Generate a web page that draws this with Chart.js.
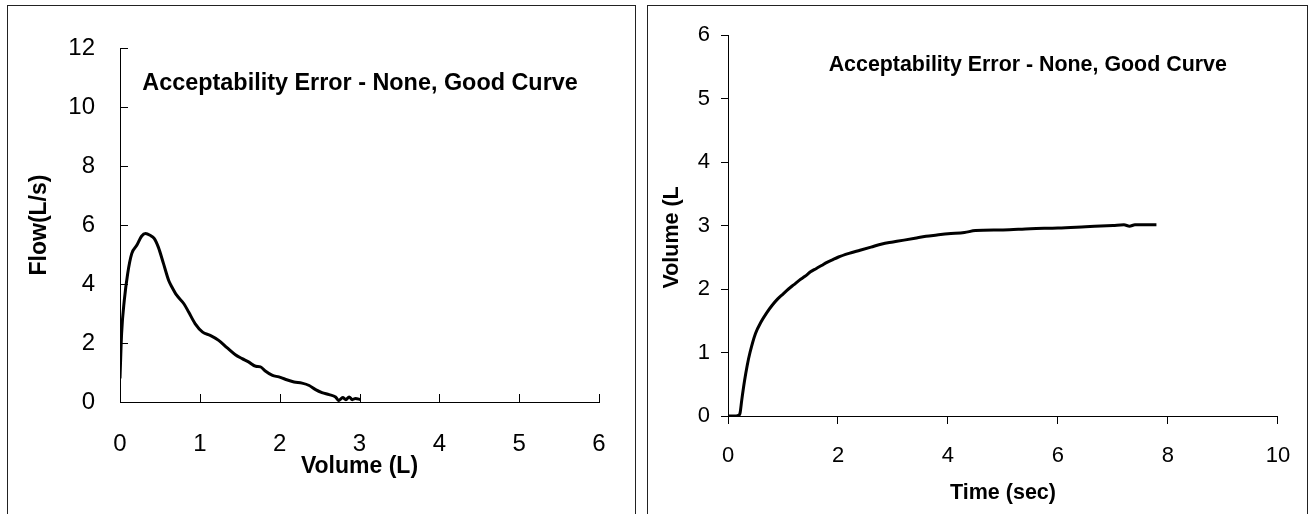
<!DOCTYPE html>
<html>
<head>
<meta charset="utf-8">
<script src="https://cdn.jsdelivr.net/npm/chart.js@4.4.1/dist/chart.umd.min.js"></script>
<style>
html, body { margin: 0; padding: 0; background: #fff; width: 1309px; height: 514px; overflow: hidden; }
.box { position: absolute; top: 5px; height: 530px; border: 1px solid #222; box-sizing: border-box; }
canvas { position: absolute; top: 0; }
</style>
</head>
<body>
<div class="box" style="left:7px;width:629px"></div>
<div class="box" style="left:647px;width:661px"></div>
<canvas id="flowVolume" width="640" height="514" style="left:0"></canvas>
<canvas id="volumeTime" width="669" height="514" style="left:640px"></canvas>
<script>
// flow-volume loop (left)
const volumeL = [0, 0.02, 0.054, 0.096, 0.147, 0.21, 0.27, 0.32, 0.377, 0.43, 0.48, 0.545, 0.61, 0.65, 0.71, 0.80,
  0.86, 0.94, 1.035, 1.13, 1.236, 1.34, 1.445, 1.53, 1.61, 1.70, 1.76, 1.82, 1.91, 1.99, 2.07, 2.18, 2.28, 2.37,
  2.45, 2.53, 2.62, 2.70, 2.74, 2.79, 2.83, 2.87, 2.91, 2.95, 3.01];
const flowLs = [0.8, 2.32, 3.45, 4.35, 5.03, 5.31, 5.62, 5.71, 5.65, 5.54, 5.25, 4.69, 4.12, 3.9, 3.62, 3.33,
  3.05, 2.66, 2.37, 2.26, 2.09, 1.84, 1.60, 1.47, 1.36, 1.21, 1.19, 1.05, 0.90, 0.85, 0.77, 0.68, 0.64, 0.56,
  0.42, 0.32, 0.25, 0.17, 0.05, 0.15, 0.08, 0.17, 0.08, 0.12, 0.08];

// volume-time curve (right)
const timeSec = [0, 0.1, 0.19, 0.22, 0.25, 0.3, 0.35, 0.4, 0.5, 0.6, 0.7, 0.8, 0.9, 1.0, 1.1, 1.2, 1.3, 1.4, 1.5,
  1.6, 1.7, 1.8, 1.9, 2.0, 2.2, 2.4, 2.6, 2.8, 3.0, 3.2, 3.4, 3.6, 3.8, 4.0, 4.3, 4.5, 5.0, 5.5, 6.0, 6.5, 7.0,
  7.2, 7.3, 7.4, 7.79];
const volumeT = [0, 0, 0.01, 0.05, 0.25, 0.55, 0.8, 1.0, 1.3, 1.48, 1.62, 1.74, 1.84, 1.92, 2.0, 2.07, 2.14, 2.2, 2.27,
  2.32, 2.37, 2.42, 2.46, 2.5, 2.56, 2.61, 2.66, 2.71, 2.74, 2.77, 2.8, 2.83, 2.85, 2.87, 2.89, 2.92, 2.93, 2.95,
  2.96, 2.98, 3.0, 3.01, 2.99, 3.01, 3.01];

const fvXTicks = [0, 1, 2, 3, 4, 5, 6];
const fvYTicks = [0, 2, 4, 6, 8, 10, 12];
const vtXTicks = [0, 2, 4, 6, 8, 10];
const vtYTicks = [0, 1, 2, 3, 4, 5, 6];

const noteText = 'Acceptability Error - None, Good Curve';
const family = '"Liberation Sans", Arial, sans-serif';

// text box inside the plot
const notePlugin = {
  id: 'note',
  afterDatasetsDraw(chart, args, opts) {
    const { ctx, scales: { x, y } } = chart;
    ctx.save();
    ctx.font = 'bold ' + opts.size + 'px ' + family;
    ctx.fillStyle = '#000';
    ctx.textAlign = 'left';
    ctx.textBaseline = 'middle';
    ctx.fillText(noteText, x.getPixelForValue(opts.x), y.getPixelForValue(opts.y));
    ctx.restore();
  }
};

// tick marks pointing into the plot
const innerTicks = {
  id: 'innerTicks',
  afterDraw(chart, args, opts) {
    if (!opts.len) return;
    const { ctx, chartArea: a, scales: { x, y } } = chart;
    ctx.save();
    ctx.strokeStyle = '#000';
    ctx.lineWidth = 1;
    ctx.beginPath();
    x.ticks.forEach(t => {
      const px = Math.round(x.getPixelForValue(t.value)) + 0.5;
      ctx.moveTo(px, a.bottom);
      ctx.lineTo(px, a.bottom - opts.len);
    });
    y.ticks.forEach(t => {
      const py = Math.round(y.getPixelForValue(t.value)) + 0.5;
      ctx.moveTo(a.left, py);
      ctx.lineTo(a.left + opts.len, py);
    });
    ctx.stroke();
    ctx.restore();
  }
};

function points(xs, ys) {
  return xs.map((v, i) => ({ x: v, y: ys[i] }));
}

function axis(ticks, opts) {
  return {
    type: 'linear',
    min: ticks[0],
    max: ticks[ticks.length - 1],
    ticks: {
      stepSize: ticks[1] - ticks[0],
      color: '#000',
      padding: opts.pad,
      maxRotation: 0,
      font: { family: family, size: opts.tickSize }
    },
    grid: {
      drawOnChartArea: false,
      drawTicks: opts.tickLen > 0,
      tickLength: opts.tickLen,
      tickColor: '#000'
    },
    border: { color: '#000', width: 1 },
    title: {
      display: true,
      text: opts.title,
      color: '#000',
      font: { family: family, size: opts.titleSize, weight: 'bold' },
      padding: opts.titlePad
    },
    afterFit: opts.fit
  };
}

new Chart(document.getElementById('flowVolume'), {
  type: 'scatter',
  data: {
    datasets: [{
      data: points(volumeL, flowLs),
      showLine: true,
      borderColor: '#000',
      borderWidth: 3,
      pointRadius: 0,
      cubicInterpolationMode: 'monotone'
    }]
  },
  options: {
    responsive: false,
    animation: false,
    layout: { padding: { left: 0, top: 48, right: 41, bottom: 0 } },
    plugins: {
      legend: { display: false },
      tooltip: { enabled: false },
      note: { x: 0.28, y: 10.8, size: 23.4 },
      innerTicks: { len: 8 }
    },
    scales: {
      x: axis(fvXTicks, { pad: 28, tickSize: 24, tickLen: 0, title: 'Volume (L)', titleSize: 23,
        titlePad: { top: 0, bottom: 33.5 }, fit: s => { s.height = 112; } }),
      y: axis(fvYTicks, { pad: 25, tickSize: 24, tickLen: 0, title: 'Flow(L/s)', titleSize: 23,
        titlePad: { top: 26, bottom: 0 }, fit: s => { s.width = 120; } })
    }
  },
  plugins: [notePlugin, innerTicks]
});

new Chart(document.getElementById('volumeTime'), {
  type: 'scatter',
  data: {
    datasets: [{
      data: points(timeSec, volumeT),
      showLine: true,
      borderColor: '#000',
      borderWidth: 3,
      pointRadius: 0,
      cubicInterpolationMode: 'monotone'
    }]
  },
  options: {
    responsive: false,
    animation: false,
    layout: { padding: { left: 0, top: 35, right: 19, bottom: 0 } },
    plugins: {
      legend: { display: false },
      tooltip: { enabled: false },
      note: { x: 1.83, y: 5.53, size: 21.4 }
    },
    scales: {
      x: axis(vtXTicks, { pad: 18.8, tickSize: 22, tickLen: 8, title: 'Time (sec)', titleSize: 21.5,
        titlePad: { top: 0, bottom: 7.8 }, fit: s => { s.height = 98; } }),
      y: axis(vtYTicks, { pad: 11, tickSize: 22, tickLen: 7, title: 'Volume (L    ', titleSize: 21.5,
        titlePad: { top: 19, bottom: 0 }, fit: s => { s.width = 88; } })
    }
  },
  plugins: [notePlugin]
});
</script>
</body>
</html>
